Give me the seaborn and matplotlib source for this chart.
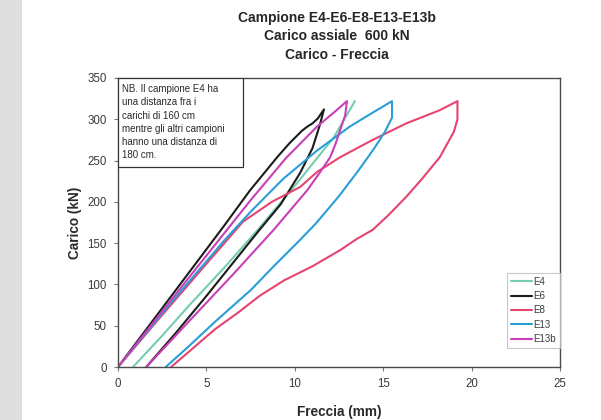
import matplotlib
matplotlib.use("Agg")
import matplotlib.pyplot as plt
from matplotlib.patches import Rectangle
import numpy as np
import pandas as pd
import seaborn as sns

# Deflection (mm) and load (kN) paths: loading branch followed by unloading branch
e4_freccia = [0.85, 2.5, 4.0, 6.0, 7.9, 10.1, 12.2, 13.4]
e4_carico = [0, 38, 74, 120, 166, 222, 278, 322]

e6_freccia = [0.0, 2.0, 4.0, 6.0, 7.47, 9.0, 9.7, 10.4, 10.7, 11.0, 11.3, 11.65,
              11.4, 11.0, 10.3, 9.2, 8.0, 6.5, 5.0, 3.3, 1.6]
e6_carico = [0, 57, 114, 171, 214, 254, 271, 286, 291, 295, 301, 312,
             292, 265, 235, 197, 166, 126, 86, 42, 0]

e8_freccia = [0.0, 2.5, 5.0, 7.07, 8.7, 10.3, 11.25, 12.56, 14.4, 16.3, 18.2, 19.2,
              19.2, 19.0, 18.2, 17.2, 16.3, 15.3, 14.4, 13.5, 12.6, 11.0, 9.4, 8.0, 6.8, 5.5, 4.2, 3.0]
e8_carico = [0, 63, 125, 176, 200, 218, 236, 254, 275, 295, 311, 322,
             300, 285, 254, 228, 206, 184, 166, 155, 142, 122, 105, 86, 66, 46, 22, 0]

e13_freccia = [0.0, 3.0, 6.0, 7.5, 9.35, 11.25, 13.1, 14.4, 15.5,
               15.5, 15.1, 14.5, 13.6, 12.5, 11.2, 10.3, 8.9, 7.5, 5.5, 4.0, 2.7]
e13_carico = [0, 78, 153, 188, 228, 262, 291, 308, 322,
              302, 285, 265, 238, 207, 174, 154, 124, 93, 55, 25, 0]

e13b_freccia = [0.0, 2.0, 4.0, 7.5, 9.5, 11.25, 12.2, 12.95,
                12.85, 12.3, 12.0, 11.4, 10.7, 8.8, 6.5, 4.0, 1.6]
e13b_carico = [0, 54, 108, 202, 253, 291, 308, 322,
               305, 270, 254, 235, 214, 166, 112, 55, 0]

campioni = ["E4", "E6", "E8", "E13", "E13b"]
colori = ["#74cdb0", "#1c1c1c", "#e6446e", "#2a9ed8", "#c83fb8"]

serie = {
    "E4": (e4_freccia, e4_carico),
    "E6": (e6_freccia, e6_carico),
    "E8": (e8_freccia, e8_carico),
    "E13": (e13_freccia, e13_carico),
    "E13b": (e13b_freccia, e13b_carico),
}

frames = []
for nome in campioni:
    fx, fy = serie[nome]
    frames.append(pd.DataFrame({"Freccia": fx, "Carico": fy,
                                "Campione": nome, "ordine": np.arange(len(fx))}))
df = pd.concat(frames, ignore_index=True)

sns.set_style("ticks")
plt.rcParams["font.family"] = ["Liberation Sans", "DejaVu Sans"]

fig = plt.figure(figsize=(6.01, 4.20), dpi=100)
# scanned page edge on the left
fig.patches.append(Rectangle((0, 0), 22 / 601, 1, transform=fig.transFigure,
                             facecolor="#dedede", edgecolor="none", zorder=0))

ax = fig.add_axes([118 / 601, 1 - 367 / 420, 442 / 601, 289 / 420])

sns.lineplot(data=df, x="Freccia", y="Carico", hue="Campione", hue_order=campioni,
             palette=colori, sort=False, estimator=None, units="Campione",
             linewidth=1.5, ax=ax)

ax.set_xlim(0, 25)
ax.set_ylim(0, 350)
ax.set_xticks([0, 5, 10, 15, 20, 25])
ax.set_yticks(np.arange(0, 351, 50))
for s in ax.spines.values():
    s.set_visible(True)
    s.set_color("#4a4a4a")
    s.set_linewidth(1.0)
ax.tick_params(axis="both", direction="out", length=3, width=0.8, color="#777777",
               labelsize=8.3, labelcolor="#3a3a3a", pad=5)

ax.set_xlabel("Freccia (mm)", fontsize=9.8, fontweight="bold", color="#2a2a2a")
ax.set_ylabel("Carico (kN)", fontsize=9.8, fontweight="bold", color="#2a2a2a")
ax.xaxis.set_label_coords(0.5, -0.13)
ax.yaxis.set_label_coords(-0.082, 0.5)

# note box in the upper-left corner
ax.add_patch(Rectangle((0, 0.692), 0.283, 0.308, transform=ax.transAxes,
                       facecolor="white", edgecolor="#333333", linewidth=0.9, zorder=5))
nota = ["NB. Il campione E4 ha", "una distanza fra i", "carichi di 160 cm",
        "mentre gli altri campioni", "hanno una distanza di", "180 cm."]
for i, riga in enumerate(nota):
    ax.text(0.008, 0.962 - i * 0.046, riga, transform=ax.transAxes, fontsize=7,
            color="#2a2a2a", va="center", ha="left", zorder=6)

handles, labels = ax.get_legend_handles_labels()
leg = ax.legend(handles, labels, loc="lower right", bbox_to_anchor=(1.0, 0.066),
                fontsize=7, frameon=True, fancybox=False, borderaxespad=0,
                handlelength=2.1, handletextpad=0.2, labelspacing=0.45,
                borderpad=0.4)
leg.get_frame().set_edgecolor("#bbbbbb")
leg.get_frame().set_linewidth(0.8)
for t in leg.get_texts():
    t.set_color("#3a3a3a")

titoli = ["Campione E4-E6-E8-E13-E13b", "Carico assiale  600 kN", "Carico - Freccia"]
for i, t in enumerate(titoli):
    fig.text(337 / 601, 1 - (18 + i * 18.5) / 420, t, fontsize=10, fontweight="bold",
             color="#262626", ha="center", va="center")

fig.savefig("out.png", dpi=100)
